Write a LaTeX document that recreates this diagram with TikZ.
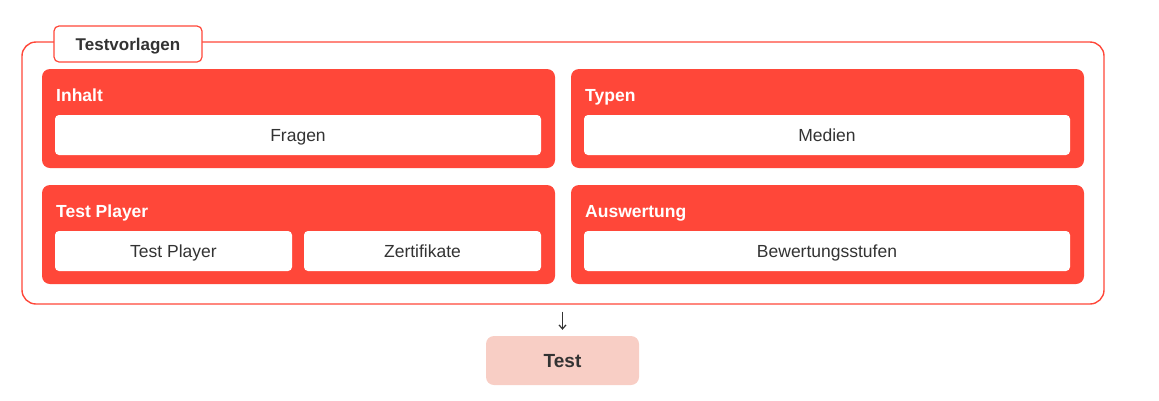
\documentclass[tikz,border=0pt]{standalone}
\usepackage{fontspec}
\setmainfont{Liberation Sans}
\usetikzlibrary{arrows.meta}
\definecolor{tred}{HTML}{FF4739}
\definecolor{tpink}{HTML}{F8CEC5}
\definecolor{tdark}{HTML}{333333}
\tikzset{
  container/.style={draw=tred, line width=1.4pt, rounded corners=14pt},
  tab/.style={draw=tred, fill=white, line width=1.2pt, rounded corners=5pt, font=\fontsize{17}{20}\selectfont\bfseries, text=tdark, text height=12.5pt, text depth=0.3pt},
  panel/.style={fill=tred, rounded corners=8pt},
  ptitle/.style={anchor=base west, text=white, font=\fontsize{17.5}{20}\selectfont\bfseries, inner sep=0pt},
  item/.style={fill=white, rounded corners=4pt, text=tdark, font=\fontsize{17.5}{20}\selectfont, text height=13pt, text depth=0.5pt},
  result/.style={fill=tpink, rounded corners=8pt, text=tdark, font=\fontsize{19}{22}\selectfont\bfseries, text height=14pt, text depth=0.4pt},
  conn/.style={draw=tdark, line width=1.2pt, -{Straight Barb[length=4pt,width=7pt]}}
}
\newcommand{\boxat}[6]{\node[#1, minimum width=#4pt, minimum height=#5pt, inner sep=0pt] (#2) at (#3) {#6};}
\begin{document}
\begin{tikzpicture}[x=1pt,y=-1pt]
\useasboundingbox (0,0) rectangle (1159,400);
\path[container] (22,42) rectangle (1104,304);
\node[container, draw=none, minimum width=1082pt, minimum height=262pt, inner sep=0pt] (cont) at (563,173) {};
\boxat{tab}{tabn}{128,44}{148}{36}{Testvorlagen}
% panels
\boxat{panel}{inhalt}{298.5,118.5}{513}{99}{}
\boxat{panel}{typen}{827.5,118.5}{513}{99}{}
\boxat{panel}{player}{298.5,234.5}{513}{99}{}
\boxat{panel}{ausw}{827.5,234.5}{513}{99}{}
\node[ptitle] (tinhalt) at (56,101) {Inhalt};
\node[ptitle] (ttypen) at (585,101) {Typen};
\node[ptitle] (tplayer) at (56,217) {Test Player};
\node[ptitle] (tausw) at (585,217) {Auswertung};
% items
\boxat{item}{fragen}{298,135}{486}{40}{Fragen}
\boxat{item}{medien}{827,135}{486}{40}{Medien}
\boxat{item}{tp}{173.5,251}{237}{40}{Test Player}
\boxat{item}{zert}{422.5,251}{237}{40}{Zertifikate}
\boxat{item}{bew}{827,251}{486}{40}{Bewertungsstufen}
% result
\boxat{result}{test}{562.5,360.5}{153}{49}{Test}
\draw[conn, shorten <=7pt, shorten >=6pt] (cont.south -| test.north) -- (test.north);
\end{tikzpicture}
\end{document}
